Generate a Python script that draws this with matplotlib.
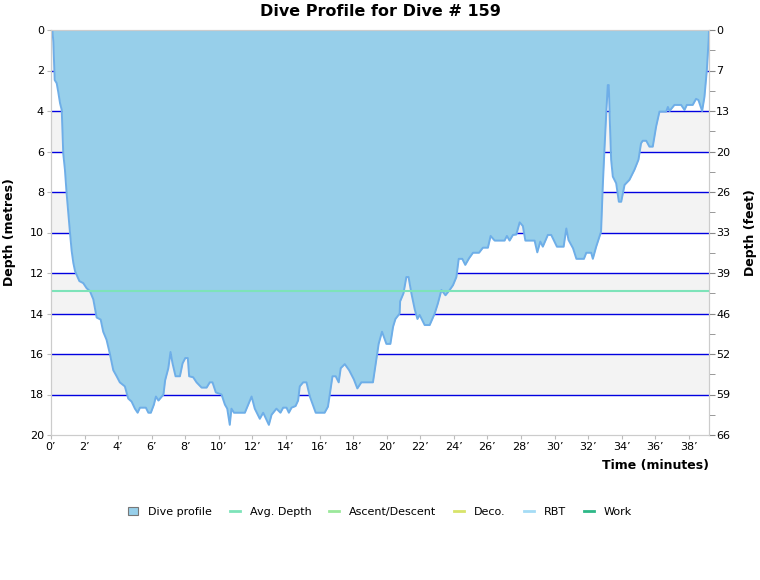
import matplotlib
matplotlib.use('Agg')
import matplotlib.pyplot as plt
from matplotlib.patches import Patch
from matplotlib.lines import Line2D

# профиль погружения, время в минутах и глубина в метрах
time_min = [0.0, 0.08, 0.14, 0.22, 0.34, 0.43, 0.54, 0.64, 0.73, 0.83, 0.93, 1.03, 1.13,
            1.23, 1.33, 1.43, 1.53, 1.69, 1.92, 2.12, 2.32, 2.52, 2.72, 2.96, 3.11, 3.31,
            3.51, 3.71, 3.91, 4.1, 4.4, 4.6, 4.8, 5.0, 5.16, 5.3, 5.65, 5.8, 5.95, 6.13,
            6.25, 6.4, 6.7, 6.8, 6.99, 7.12, 7.24, 7.42, 7.68, 7.84, 8.0, 8.15, 8.23,
            8.47, 8.67, 8.97, 9.27, 9.46, 9.62, 9.82, 10.16, 10.36, 10.5, 10.65, 10.75,
            10.9, 11.55, 11.95, 12.14, 12.44, 12.64, 12.98, 13.14, 13.43, 13.67, 13.83,
            14.03, 14.17, 14.33, 14.57, 14.72, 14.82, 15.02, 15.22, 15.42, 15.77, 16.3,
            16.5, 16.77, 16.96, 17.14, 17.26, 17.5, 17.76, 18.04, 18.25, 18.49, 19.18,
            19.38, 19.52, 19.72, 19.98, 20.22, 20.38, 20.52, 20.77, 20.8, 21.0, 21.17,
            21.3, 21.47, 21.67, 21.83, 21.96, 22.26, 22.56, 22.86, 23.05, 23.26, 23.5,
            23.75, 23.95, 24.15, 24.29, 24.5, 24.68, 24.9, 25.14, 25.5, 25.73, 26.03,
            26.19, 26.43, 27.02, 27.16, 27.32, 27.52, 27.72, 27.92, 28.11, 28.26, 28.81,
            28.97, 29.15, 29.3, 29.6, 29.8, 30.14, 30.54, 30.7, 30.83, 31.1, 31.3, 31.75,
            31.89, 32.18, 32.28, 32.48, 32.77, 32.87, 32.98, 33.08, 33.17, 33.23, 33.29,
            33.37, 33.47, 33.67, 33.83, 33.97, 34.17, 34.46, 34.76, 35.0, 35.15, 35.25,
            35.46, 35.65, 35.85, 36.05, 36.25, 36.65, 36.75, 36.85, 37.14, 37.54, 37.74,
            37.88, 38.23, 38.43, 38.57, 38.79, 38.93, 39.07, 39.18, 39.2]
depth_m = [0.0, 0.0, 0.58, 2.47, 2.63, 3.05, 3.62, 3.95, 6.1, 6.9, 8.06, 9.05, 10.0,
           10.9, 11.5, 11.9, 12.1, 12.4, 12.5, 12.75, 12.9, 13.3, 14.2, 14.3, 14.9, 15.3,
           16.0, 16.8, 17.1, 17.4, 17.6, 18.2, 18.35, 18.7, 18.9, 18.65, 18.65, 18.9, 18.9,
           18.5, 18.1, 18.3, 18.0, 17.3, 16.7, 15.9, 16.46, 17.1, 17.1, 16.46, 16.2, 16.2,
           17.1, 17.15, 17.4, 17.66, 17.66, 17.4, 17.4, 17.9, 18.0, 18.5, 18.7, 19.5, 18.7,
           18.9, 18.9, 18.1, 18.7, 19.2, 18.9, 19.5, 19.0, 18.7, 18.9, 18.65,
           18.65, 18.9, 18.65, 18.57, 18.3, 17.6, 17.4, 17.4, 18.1, 18.9, 18.9,
           18.6, 17.1, 17.1, 17.4, 16.7, 16.5, 16.8, 17.25, 17.7, 17.4, 17.4,
           16.3, 15.5, 14.9, 15.5, 15.5, 14.65, 14.27, 14.0, 13.4, 13.0, 12.2,
           12.2, 13.0, 13.8, 14.27, 14.07, 14.57, 14.57, 14.0, 13.5, 12.84, 13.1,
           12.84, 12.6, 12.2, 11.3, 11.3, 11.6, 11.28, 11.0, 11.0, 10.75, 10.75,
           10.17, 10.4, 10.4, 10.17, 10.4, 10.12, 10.1, 9.5, 9.68, 10.4, 10.4,
           10.98, 10.45, 10.7, 10.12, 10.12, 10.7, 10.7, 9.8, 10.37, 10.78, 11.3, 11.3,
           11.0, 11.0, 11.3, 10.7, 9.96, 7.74, 5.76, 4.1, 2.72, 2.72, 4.44,
           6.4, 7.24, 7.57, 8.48, 8.48, 7.65, 7.4, 6.9, 6.4, 5.6, 5.47,
           5.47, 5.76, 5.76, 4.77, 4.03, 4.03, 3.8, 4.0, 3.7, 3.7, 3.95,
           3.7, 3.7, 3.4, 3.46, 4.0, 3.3, 1.98, 0.5, 0.0]

avg_depth = 12.9
t_max = 39.2
max_depth = 20

depth_ticks = list(range(0, 21, 2))
feet_labels = [str(round(d * 3.28084)) for d in depth_ticks]
time_ticks = list(range(0, 39, 2))
time_labels = [str(t) + '’' for t in time_ticks]

legend_names = ['Dive profile', 'Avg. Depth', 'Ascent/Descent', 'Deco.', 'RBT', 'Work']
legend_colors = ['#97cfea', '#7de3b9', '#9be89b', '#d8e46a', '#a5dcf5', '#2db887']

plt.rcParams['font.family'] = 'DejaVu Sans'

fig = plt.figure(figsize=(7.6, 5.8), dpi=100)
ax = fig.add_axes([51 / 760, 1 - 435 / 580, (709 - 51) / 760, (435 - 30) / 580])

# полосы фона и синие линии сетки
for d in range(0, max_depth, 4):
    ax.axhspan(d, d + 2, color='#f3f3f3', zorder=0, lw=0)
for d in range(2, max_depth, 2):
    ax.axhline(d, color='#0000e0', lw=1, zorder=1)

ax.fill_between(time_min, 0, depth_m, color='#97cfea', zorder=2, lw=0)
ax.plot(time_min, depth_m, color='#6eaee8', lw=1.4, zorder=3)
ax.axhline(avg_depth, color=legend_colors[1], lw=1.5, zorder=4)

ax.set_xlim(0, t_max)
ax.set_ylim(max_depth, 0)
ax.set_xticks(time_ticks)
ax.set_xticklabels(time_labels)
ax.set_yticks(depth_ticks)
ax.tick_params(labelsize=8, length=3, color='#bbbbbb', pad=2)
for s in ax.spines.values():
    s.set_color('#cccccc')

ax2 = ax.twinx()
ax2.set_ylim(max_depth, 0)
ax2.set_yticks(depth_ticks)
ax2.set_yticklabels(feet_labels)
ax2.set_yticks(list(range(1, 20, 2)), minor=True)
ax2.tick_params(labelsize=8, length=4, color='#888888', pad=1)
ax2.tick_params(which='minor', length=4, color='#888888')
for s in ax2.spines.values():
    s.set_color('#cccccc')

ax.set_ylabel('Depth (metres)', fontsize=9, fontweight='bold', labelpad=10)
ax2.set_ylabel('Depth (feet)', fontsize=9, fontweight='bold', labelpad=10)
fig.text(709 / 760, 1 - 466 / 580, 'Time (minutes)', fontsize=9, fontweight='bold',
         ha='right', va='center')
fig.text(0.5, 1 - 12 / 580, 'Dive Profile for Dive # 159', fontsize=11.5,
         fontweight='bold', ha='center', va='center')

handles = [Patch(facecolor=legend_colors[0], edgecolor='#777777', lw=0.8)]
for c in legend_colors[1:]:
    handles.append(Line2D([0], [0], color=c, lw=2))
fig.legend(handles, legend_names, loc='center', bbox_to_anchor=(0.5, 1 - 512 / 580),
           ncol=6, frameon=False, fontsize=8, handlelength=0.9, handleheight=0.8,
           handletextpad=0.9, columnspacing=1.6)

fig.savefig('out.png', dpi=100)
